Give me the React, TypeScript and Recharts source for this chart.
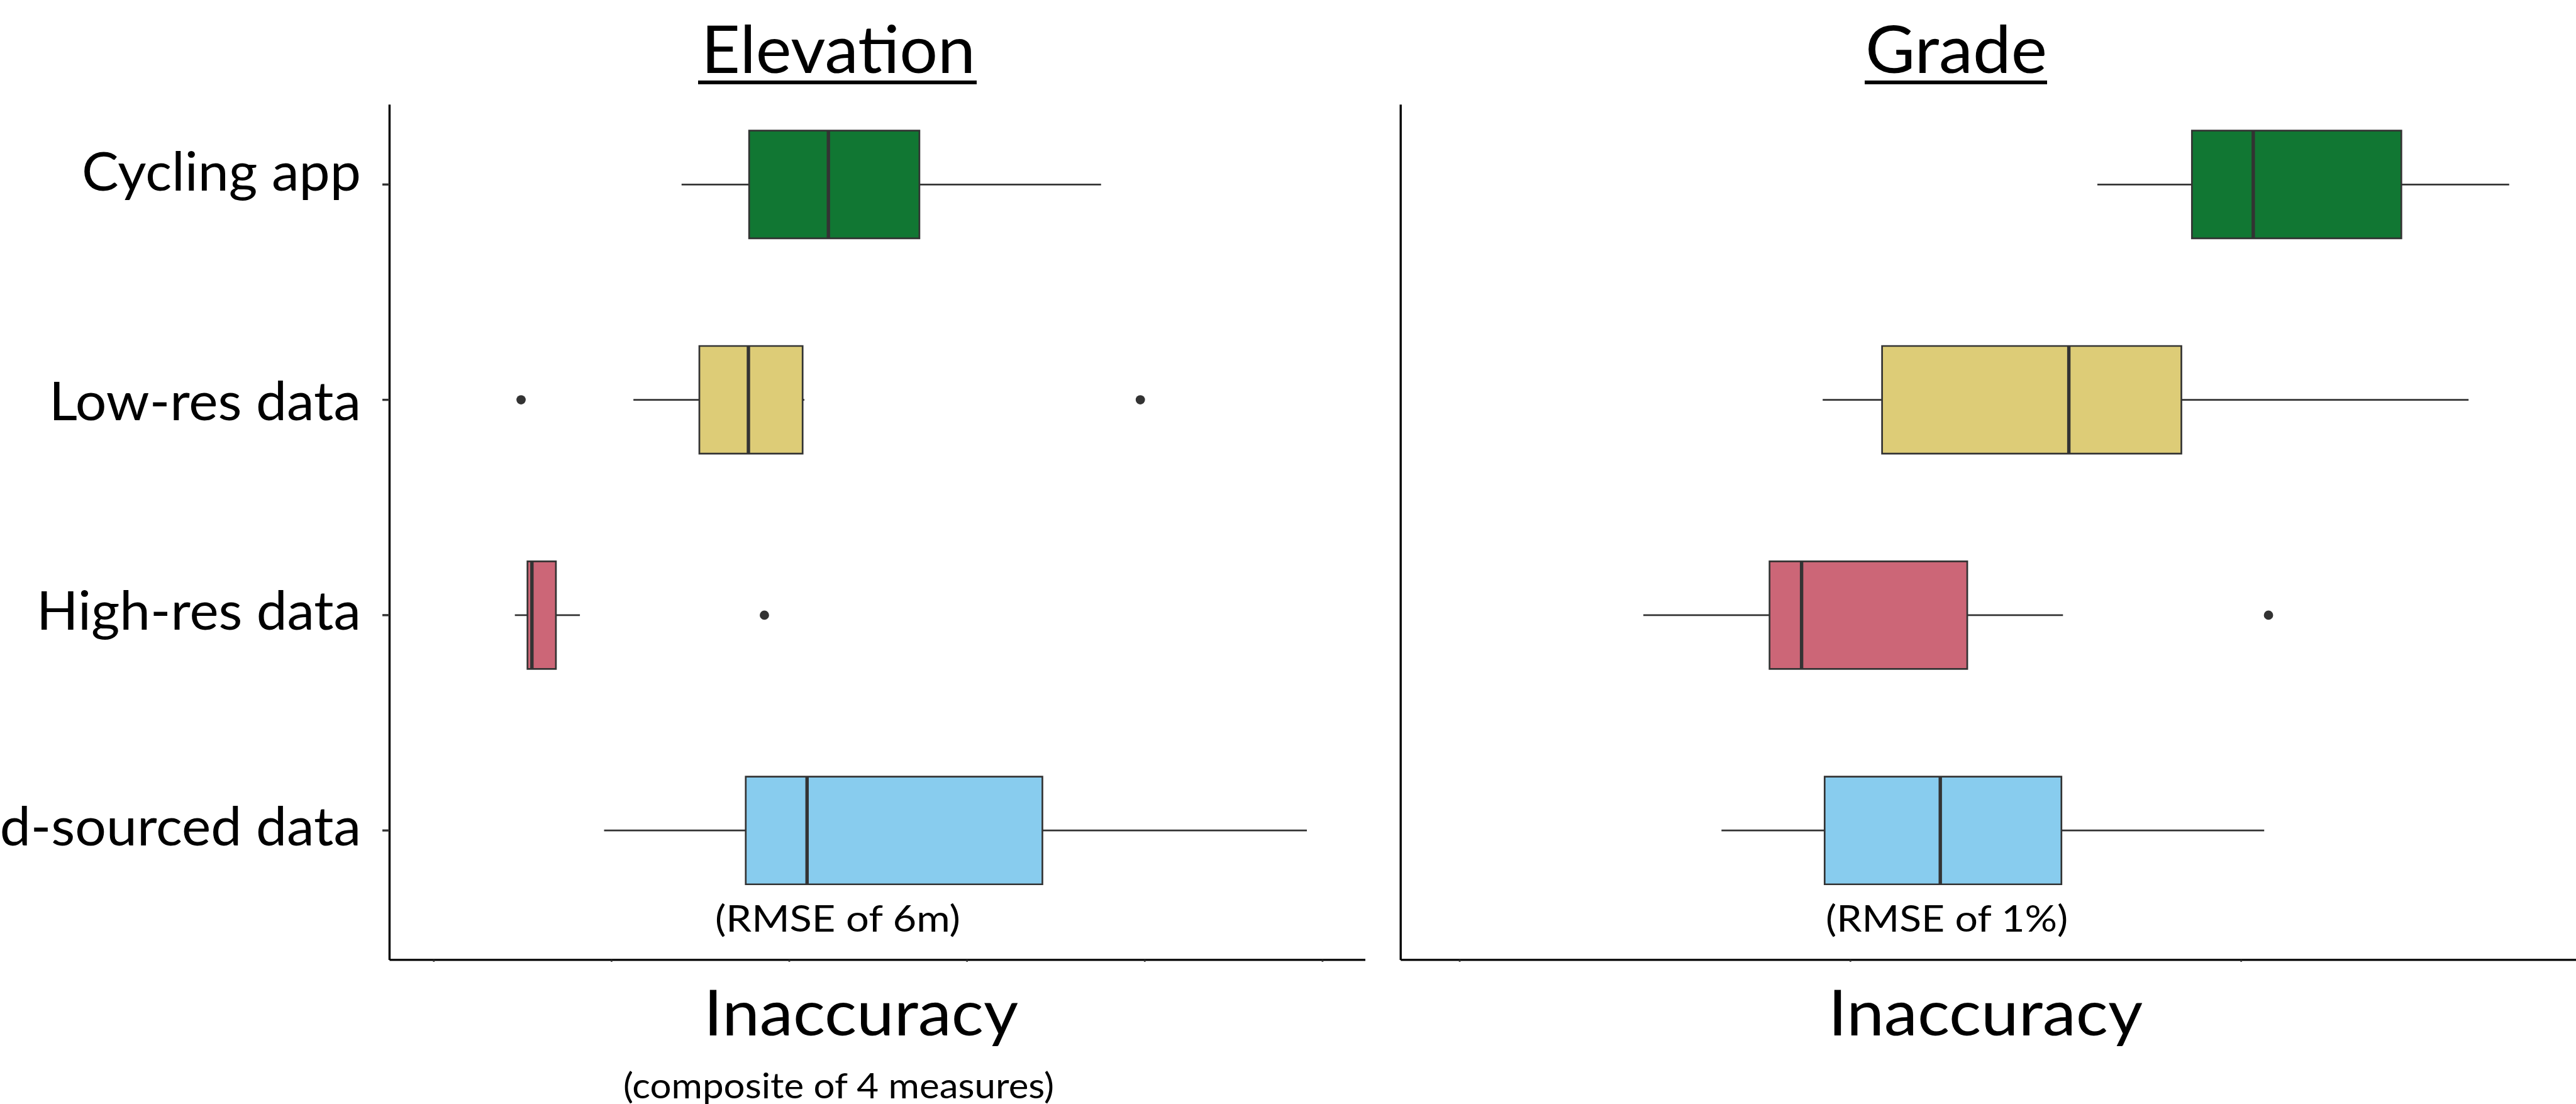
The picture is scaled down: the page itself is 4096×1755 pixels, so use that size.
import React from 'react';
import { ComposedChart, XAxis, YAxis, ReferenceArea, ReferenceLine, Scatter } from 'recharts';

// ─── Data (inaccuracy, in axis-tick units; ticks carry no labels) ──────────
const categories = ['Cycling app', 'Low-res data', 'High-res data', 'Crowd-sourced data'];
const categoryIndex = [0, 1, 2, 3];
const boxColors = ['#117733', '#DDCC77', '#CC6677', '#88CCEE'];

const elevationTicks = [0, 1, 2, 3, 4, 5];
const elevationMin = [1.394, 1.123, 0.456, 0.958];
const elevationQ1 = [1.774, 1.494, 0.527, 1.755];
const elevationMedian = [2.22, 1.77, 0.552, 2.1];
const elevationQ3 = [2.732, 2.075, 0.687, 3.424];
const elevationMax = [3.754, 2.085, 0.822, 4.912];
const elevationOutlierCat = [1, 1, 2];
const elevationOutlierValue = [0.491, 3.975, 1.86];

const gradeTicks = [0, 1, 2];
const gradeMin = [1.632, 0.929, 0.47, 0.67];
const gradeQ1 = [1.874, 1.081, 0.793, 0.934];
const gradeMedian = [2.031, 1.559, 0.875, 1.23];
const gradeQ3 = [2.41, 1.847, 1.299, 1.54];
const gradeMax = [2.686, 2.582, 1.544, 2.059];
const gradeOutlierCat = [2];
const gradeOutlierValue = [2.07];

// ─── Layout ───────────────────────────────────────────────────────────────
const W = 4096;
const H = 1755;
const PLOT_TOP = 166.3;
const PLOT_BOTTOM = 1525.9;
const Y_DOMAIN = [-0.371, 3.601];
const BOX_HALF = 0.25;
const INK = '#333333';
const FONT = 'Lato, "Open Sans", sans-serif';

// per-label tweaks for the category names (baseline shift, rendered width)
const labelStyle = [
  { dy: 9.5, len: 444 },
  { dy: 32, len: 496 },
  { dy: 23.6, len: 516 },
  { dy: 23.5, len: 780 },
];

function buildStats(min: number[], q1: number[], med: number[], q3: number[], max: number[]) {
  return categoryIndex.map((i) => ({
    y: i,
    min: min[i],
    q1: q1[i],
    med: med[i],
    q3: q3[i],
    max: max[i],
    color: boxColors[i],
  }));
}

function buildOutliers(cats: number[], values: number[]) {
  return cats.map((c, i) => ({ x: values[i], y: c }));
}

const CategoryTick = ({ x, y, payload }: any) => {
  const i = payload.value;
  const st = labelStyle[i];
  return (
    <text
      x={x}
      y={y + st.dy}
      textAnchor="end"
      fontFamily={FONT}
      fontSize={86}
      fill="#000"
      textLength={st.len}
      lengthAdjust="spacingAndGlyphs"
    >
      {categories[i]}
    </text>
  );
};

const OutlierDot = (props: any) => <circle cx={props.cx} cy={props.cy} r={7.4} fill={INK} />;

function BoxPanel({ stats, outliers, xDomain, xTicks, width, yAxisWidth, showLabels }: any) {
  return (
    <ComposedChart width={width} height={H} margin={{ top: PLOT_TOP, right: 0, bottom: 0, left: 0 }}>
      <XAxis
        type="number"
        dataKey="x"
        domain={xDomain}
        ticks={xTicks}
        allowDataOverflow
        interval={0}
        height={H - PLOT_BOTTOM}
        tickFormatter={() => ''}
        tickSize={3}
        axisLine={{ stroke: '#000', strokeWidth: 3.4 }}
        tickLine={{ stroke: INK, strokeWidth: 2.7 }}
      />
      <YAxis
        type="number"
        dataKey="y"
        domain={Y_DOMAIN}
        reversed
        ticks={categoryIndex}
        allowDataOverflow
        interval={0}
        width={yAxisWidth}
        tickSize={showLabels ? 11.4 : 0}
        tickMargin={34}
        tick={showLabels ? <CategoryTick /> : false}
        tickLine={showLabels ? { stroke: INK, strokeWidth: 3.4 } : false}
        axisLine={{ stroke: '#000', strokeWidth: 3.4 }}
      />
      {stats.map((s: any) => (
        <ReferenceLine
          key={`wl-${s.y}`}
          segment={[{ x: s.min, y: s.y }, { x: s.q1, y: s.y }]}
          stroke={INK}
          strokeWidth={2.7}
        />
      ))}
      {stats.map((s: any) => (
        <ReferenceLine
          key={`wh-${s.y}`}
          segment={[{ x: s.q3, y: s.y }, { x: s.max, y: s.y }]}
          stroke={INK}
          strokeWidth={2.7}
        />
      ))}
      {stats.map((s: any) => (
        <ReferenceArea
          key={`box-${s.y}`}
          x1={s.q1}
          x2={s.q3}
          y1={s.y - BOX_HALF}
          y2={s.y + BOX_HALF}
          fill={s.color}
          fillOpacity={1}
          stroke={INK}
          strokeWidth={2.7}
        />
      ))}
      {stats.map((s: any) => (
        <ReferenceLine
          key={`med-${s.y}`}
          segment={[{ x: s.med, y: s.y - BOX_HALF }, { x: s.med, y: s.y + BOX_HALF }]}
          stroke={INK}
          strokeWidth={5.4}
        />
      ))}
      <Scatter data={outliers} isAnimationActive={false} shape={<OutlierDot />} />
    </ComposedChart>
  );
}

const T = ({ x, y, size, len, children }: any) => (
  <text
    x={x}
    y={y}
    textAnchor="middle"
    fontFamily={FONT}
    fontSize={size}
    fill="#000"
    textLength={len}
    lengthAdjust="spacingAndGlyphs"
  >
    {children}
  </text>
);

export default function App() {
  const elevationStats = buildStats(elevationMin, elevationQ1, elevationMedian, elevationQ3, elevationMax);
  const gradeStats = buildStats(gradeMin, gradeQ1, gradeMedian, gradeQ3, gradeMax);
  const elevationOutliers = buildOutliers(elevationOutlierCat, elevationOutlierValue);
  const gradeOutliers = buildOutliers(gradeOutlierCat, gradeOutlierValue);

  return (
    <div style={{ position: 'absolute', left: 0, top: 0, width: W, height: H, overflow: 'hidden', background: '#fff' }}>
      <div style={{ position: 'absolute', left: 0, top: 0 }}>
        <BoxPanel
          stats={elevationStats}
          outliers={elevationOutliers}
          xDomain={[-0.249, 5.241]}
          xTicks={elevationTicks}
          width={2171}
          yAxisWidth={619.4}
          showLabels
        />
      </div>
      <div style={{ position: 'absolute', left: 2180, top: 0 }}>
        <BoxPanel
          stats={gradeStats}
          outliers={gradeOutliers}
          xDomain={[-0.151, 2.857]}
          xTicks={gradeTicks}
          width={W - 2180}
          yAxisWidth={2227.2 - 2180}
          showLabels={false}
        />
      </div>
      <svg width={W} height={H} style={{ position: 'absolute', left: 0, top: 0, pointerEvents: 'none' }}>
        <T x={1333} y={115.8} size={104} len={436}>Elevation</T>
        <rect x={1110} y={128} width={443} height={6} fill="#000" />
        <T x={3110.5} y={115.8} size={104} len={289}>Grade</T>
        <rect x={2965} y={128} width={290} height={6} fill="#000" />

        <T x={1332} y={1480.6} size={59} len={390}>(RMSE of 6m)</T>
        <T x={3095.6} y={1480.6} size={59} len={385}>(RMSE of 1%)</T>

        <T x={1369} y={1645.5} size={101} len={500}>Inaccuracy</T>
        <T x={3157} y={1645.5} size={101} len={500}>Inaccuracy</T>
        <T x={1333.6} y={1746.4} size={56} len={685}>(composite of 4 measures)</T>
      </svg>
    </div>
  );
}
